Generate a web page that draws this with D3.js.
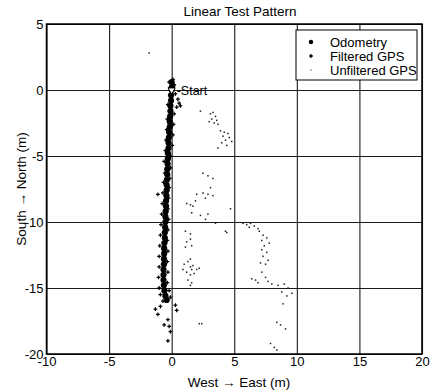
<!DOCTYPE html>
<html>
<head>
<meta charset="utf-8">
<script src="https://cdn.jsdelivr.net/npm/d3@7"></script>
<style>
  body { margin: 0; background: #fff; }
  text { font-family: "Liberation Sans", Arial, sans-serif; fill: #000; }
</style>
</head>
<body>
<div id="chart"></div>
<script>
// values, metres
const xTicks = [-10, -5, 0, 5, 10, 15, 20];
const yTicks = [-20, -15, -10, -5, 0, 5];

const odometry = [
  [0.0, 0.6], [0.05, 0.3], [0.0, 0.0], [-0.05, -0.4], [-0.05, -0.8], [-0.1, -1.2],
  [-0.1, -1.6], [-0.12, -2.0], [-0.15, -2.4], [-0.15, -2.8], [-0.2, -3.2], [-0.22, -3.6],
  [-0.25, -4.0], [-0.25, -4.4], [-0.3, -4.8], [-0.3, -5.2], [-0.32, -5.6], [-0.35, -6.0],
  [-0.35, -6.4], [-0.38, -6.8], [-0.4, -7.2], [-0.4, -7.6], [-0.42, -8.0], [-0.45, -8.4],
  [-0.45, -8.8], [-0.48, -9.2], [-0.5, -9.6], [-0.5, -10.0], [-0.52, -10.4], [-0.55, -10.8],
  [-0.55, -11.2], [-0.58, -11.6], [-0.6, -12.0], [-0.6, -12.4], [-0.62, -12.8], [-0.62, -13.2],
  [-0.65, -13.6], [-0.65, -14.0], [-0.65, -14.4], [-0.62, -14.8], [-0.58, -15.2], [-0.5, -15.6],
  [-0.4, -15.9]
];

const filteredGps = [
  [0.1, 0.8], [-0.2, 0.6], [0.2, 0.4], [-0.15, 0.2], [0.3, -0.3], [0.5, -0.7], [0.6, -1.0],
  [0.4, -1.3], [0.7, -1.2], [-0.3, -1.1], [0.2, -1.8], [-0.35, -2.2], [0.15, -2.6], [-0.4, -3.0],
  [0.1, -3.4], [-0.45, -3.8], [0.05, -4.2], [-0.5, -4.6], [-0.1, -5.0], [-0.6, -5.4], [-0.1, -5.9],
  [-0.55, -6.3], [-0.15, -6.7], [-0.65, -7.0], [-1.1, -7.9], [-0.2, -7.4], [-0.7, -7.8],
  [-0.25, -8.2], [-0.75, -8.6], [-0.3, -9.0], [-0.8, -9.4], [-0.25, -9.8], [-0.85, -10.2],
  [-0.3, -10.6], [-0.9, -11.0], [-0.35, -11.4], [-0.95, -11.8], [-0.3, -12.2], [-1.0, -12.6],
  [-0.35, -13.0], [-1.0, -13.4], [-0.3, -13.8], [-1.05, -14.2], [-0.35, -14.6], [-1.0, -15.0],
  [-0.2, -15.2], [-0.9, -15.5], [-0.1, -15.7], [-0.7, -16.0], [0.3, -16.3], [0.4, -16.7],
  [-0.9, -16.4], [-1.3, -16.6], [-1.1, -17.0], [-0.3, -17.4], [-0.2, -17.9], [-0.1, -18.3],
  [-0.6, -17.8], [-0.3, -19.0]
];

const unfilteredGps = [
  [-1.8, 2.8],
  [2.3, -1.6], [3.1, -1.8], [3.3, -1.7], [3.5, -2.0], [3.2, -2.2], [3.6, -2.3], [3.4, -2.5],
  [3.7, -2.6], [3.0, -2.4],
  [3.9, -3.1], [4.2, -3.2], [4.5, -3.3], [4.1, -3.5], [4.6, -3.6], [4.3, -3.8], [4.8, -3.9],
  [4.0, -4.0], [4.4, -4.2], [3.7, -4.4],
  [2.5, -6.3], [2.9, -6.5], [3.3, -6.7], [3.1, -7.4], [2.5, -7.8], [2.9, -7.9], [3.3, -8.0],
  [2.7, -8.2], [2.0, -7.9], [1.9, -8.4], [1.2, -8.6], [1.5, -8.7], [1.7, -8.8], [1.6, -9.3],
  [2.3, -9.5], [2.9, -9.4], [2.7, -9.8], [3.5, -10.1], [4.7, -9.0], [4.3, -10.7], [4.4, -10.8],
  [1.1, -10.7], [1.5, -10.9], [1.5, -11.3], [1.2, -11.5], [1.6, -11.8], [1.1, -11.9],
  [1.0, -13.2], [1.3, -13.0], [1.5, -12.8], [1.7, -13.3], [2.0, -13.6], [1.2, -13.8],
  [1.5, -14.0], [1.8, -13.9], [0.9, -13.6], [2.2, -13.5], [1.6, -13.6], [1.5, -13.4],
  [1.3, -14.4], [1.6, -14.6], [1.5, -14.8],
  [2.2, -17.7], [2.4, -17.7],
  [5.7, -10.1], [6.0, -10.2], [6.3, -10.1], [6.6, -10.3], [6.9, -10.5], [6.2, -10.4],
  [7.0, -10.7], [7.3, -11.0], [7.6, -11.2], [7.2, -11.4], [7.8, -11.6], [7.4, -11.8],
  [7.2, -12.1], [7.6, -12.3], [7.3, -12.6], [7.7, -12.9], [7.1, -13.1], [7.5, -13.2],
  [7.2, -13.8], [7.5, -14.2], [7.7, -14.5], [6.4, -14.3], [6.7, -14.4], [6.9, -14.6],
  [8.0, -14.7], [8.5, -14.8], [9.0, -14.7], [9.3, -15.0], [8.8, -15.3], [9.6, -15.4], [9.2, -15.6],
  [8.9, -16.2], [8.4, -17.6], [8.7, -17.8], [9.1, -18.1], [7.9, -19.2], [8.2, -19.5], [8.4, -19.7]
];

const startPoint = [0, 0];

let margin = {top: 24, right: 8, bottom: 37, left: 46.5},
  width = 430,
  height = 391,
  innerWidth = width - margin.left - margin.right,
  innerHeight = height - margin.top - margin.bottom;

const xScale = d3.scaleLinear().domain([-10, 20]).range([0, innerWidth]);
const yScale = d3.scaleLinear().domain([-20, 5]).range([innerHeight, 0]);

const svg = d3.select("#chart").append("svg")
    .attr("width", width)
    .attr("height", height);

const g = svg.append("g")
    .attr("transform", "translate(" + margin.left + "," + margin.top + ")");

// grid + tick labels (plain hyphen minus like the original)
g.append("g")
    .attr("class", "x axis")
    .attr("transform", "translate(0," + innerHeight + ")")
    .call(d3.axisBottom(xScale).tickValues(xTicks).tickFormat(d => String(d))
      .tickSize(-innerHeight).tickPadding(3));

g.append("g")
    .attr("class", "y axis")
    .call(d3.axisLeft(yScale).tickValues(yTicks).tickFormat(d => String(d))
      .tickSize(-innerWidth).tickPadding(3));

g.selectAll(".axis .domain").remove();
g.selectAll(".axis line").attr("stroke", "#1a1a1a").attr("stroke-width", 1.1);
g.selectAll(".axis text")
    .style("font-size", "13px")
    .style("font-family", "'Liberation Sans', Arial, sans-serif")
    .attr("fill", "#000");

g.append("rect")
    .attr("width", innerWidth)
    .attr("height", innerHeight)
    .attr("fill", "none")
    .attr("stroke", "#000")
    .attr("stroke-width", 1.5);

// unfiltered GPS: tiny dots
g.selectAll(".raw")
    .data(unfilteredGps)
  .enter().append("rect")
    .attr("class", "raw")
    .attr("x", d => xScale(d[0]) - 0.75)
    .attr("y", d => yScale(d[1]) - 0.75)
    .attr("width", 1.5)
    .attr("height", 1.5)
    .attr("fill", "#222");

// odometry: fat dots
g.selectAll(".odo")
    .data(odometry)
  .enter().append("circle")
    .attr("class", "odo")
    .attr("cx", d => xScale(d[0]))
    .attr("cy", d => yScale(d[1]))
    .attr("r", 3.1)
    .attr("fill", "#000");

// filtered GPS: small plus marks
const plus = d3.symbol().type(d3.symbolCross).size(8);
g.selectAll(".filt")
    .data(filteredGps)
  .enter().append("path")
    .attr("class", "filt")
    .attr("transform", d => "translate(" + xScale(d[0]) + "," + yScale(d[1]) + ")")
    .attr("d", plus)
    .attr("fill", "#000");

// start marker
g.append("path")
    .attr("transform", "translate(" + xScale(startPoint[0]) + "," + yScale(startPoint[1]) + ") rotate(180)")
    .attr("d", d3.symbol().type(d3.symbolTriangle).size(22))
    .attr("fill", "#fff")
    .attr("stroke", "#000")
    .attr("stroke-width", 1);

g.append("text")
    .attr("x", xScale(startPoint[0]) + 5)
    .attr("y", yScale(startPoint[1]) + 5)
    .style("font-size", "12.5px")
    .text("-Start");

// title and axis labels
svg.append("text")
    .attr("x", 240)
    .attr("y", 16)
    .attr("text-anchor", "middle")
    .style("font-size", "13.5px")
    .text("Linear Test Pattern");

svg.append("text")
    .attr("x", 239)
    .attr("y", 387)
    .attr("text-anchor", "middle")
    .style("font-size", "13.5px")
    .text("West \u2192 East (m)");

svg.append("text")
    .attr("transform", "translate(26," + (margin.top + innerHeight / 2) + ") rotate(-90)")
    .attr("text-anchor", "middle")
    .style("font-size", "13.5px")
    .text("South \u2192 North (m)");

// legend
const legend = svg.append("g").attr("transform", "translate(296,30)");
legend.append("rect")
    .attr("width", 121)
    .attr("height", 50)
    .attr("fill", "#fff")
    .attr("stroke", "#000")
    .attr("stroke-width", 1);

const legendItems = ["Odometry", "Filtered GPS", "Unfiltered GPS"];
legendItems.forEach((name, i) => {
  const yy = 12 + i * 14;
  if (i === 0) {
    legend.append("circle").attr("cx", 15).attr("cy", yy).attr("r", 2.2).attr("fill", "#000");
  } else if (i === 1) {
    legend.append("path").attr("transform", "translate(15," + yy + ")")
        .attr("d", plus).attr("fill", "#000");
  } else {
    legend.append("rect").attr("x", 14.5).attr("y", yy - 0.5).attr("width", 1).attr("height", 1).attr("fill", "#000");
  }
  legend.append("text")
      .attr("x", 34)
      .attr("y", yy + 4.5)
      .style("font-size", "13px")
      .text(name);
});
</script>
</body>
</html>
